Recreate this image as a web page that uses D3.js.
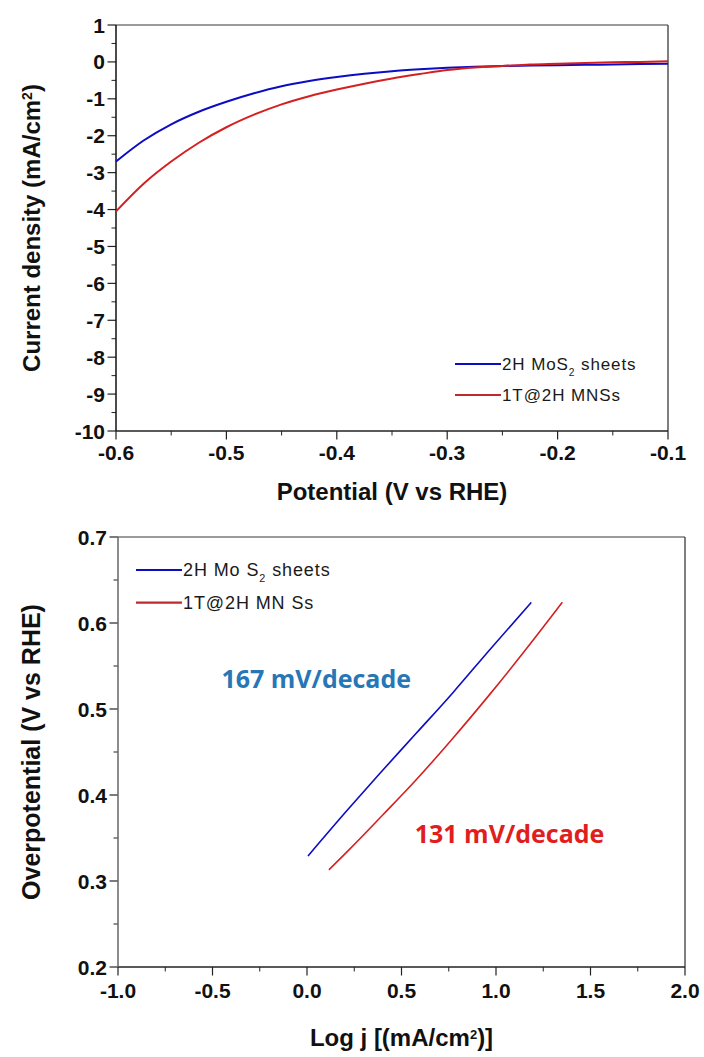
<!DOCTYPE html>
<html>
<head>
<meta charset="utf-8">
<script src="https://cdn.jsdelivr.net/npm/d3@7"></script>
<style>
  body { margin: 0; background: #fff; }
  svg { display: block; }
  .tick-label { font-family: "Liberation Sans", Arial, sans-serif; font-weight: bold; font-size: 21px; fill: #111; }
  .axis-title { font-family: "Liberation Sans", Arial, sans-serif; font-weight: bold; font-size: 24px; fill: #111; }
  .legend-text { font-family: "Liberation Sans", Arial, sans-serif; fill: #1a1a1a; }
  .slope-label { font-family: "Open Sans", "Noto Sans", sans-serif; font-weight: bold; font-size: 25px; }
</style>
</head>
<body>
<svg id="chart" width="704" height="1057"></svg>
<script>
// LSV polarisation curves (top panel)
const lsvPotential = [-0.600, -0.575, -0.550, -0.525, -0.500, -0.475, -0.450, -0.425, -0.400,
  -0.375, -0.350, -0.325, -0.300, -0.275, -0.250, -0.225, -0.200, -0.175, -0.150, -0.125, -0.100];
const lsv2H = [-2.70, -2.13, -1.69, -1.35, -1.08, -0.85, -0.66, -0.52, -0.41,
  -0.32, -0.25, -0.20, -0.16, -0.13, -0.11, -0.10, -0.09, -0.08, -0.07, -0.06, -0.05];
const lsv1T = [-4.05, -3.30, -2.70, -2.19, -1.77, -1.43, -1.15, -0.93, -0.75,
  -0.59, -0.45, -0.33, -0.22, -0.15, -0.11, -0.07, -0.05, -0.03, -0.01, 0.00, 0.02];

// Tafel plots (bottom panel)
const tafel2HLogJ = [0.005, 0.208, 0.385, 0.579, 0.772, 0.967, 1.187];
const tafel2HEta = [0.329, 0.381, 0.425, 0.472, 0.519, 0.569, 0.624];
const tafel1TLogJ = [0.116, 0.226, 0.402, 0.579, 0.772, 0.967, 1.143, 1.351];
const tafel1TEta = [0.313, 0.337, 0.377, 0.418, 0.466, 0.517, 0.565, 0.624];

const seriesColors = ["#0c0cc4", "#d42020"];

const lsvXTicks = [-0.6, -0.5, -0.4, -0.3, -0.2, -0.1];
const lsvYTicks = [1, 0, -1, -2, -3, -4, -5, -6, -7, -8, -9, -10];
const tafelXTicks = [-1.0, -0.5, 0.0, 0.5, 1.0, 1.5, 2.0];
const tafelYTicks = [0.2, 0.3, 0.4, 0.5, 0.6, 0.7];

const svg = d3.select("#chart");

// plain hyphen minus, like the original export
const fmt1 = d => d3.format(".1f")(d).replace("\u2212", "-");
const fmt0 = d => String(d);

function drawFrame(g, x, y, opts) {
  const [x0, x1] = x.range();
  const [y0, y1] = y.range();

  // minor ticks
  g.selectAll(".minor-x")
    .data(opts.xMinor)
    .enter()
    .append("line")
    .attr("x1", d => x(d)).attr("x2", d => x(d))
    .attr("y1", y0).attr("y2", y0 + 4.5)
    .attr("stroke", "#222").attr("stroke-width", 1);

  g.selectAll(".minor-y")
    .data(opts.yMinor)
    .enter()
    .append("line")
    .attr("x1", x0 - 4.5).attr("x2", x0)
    .attr("y1", d => y(d)).attr("y2", d => y(d))
    .attr("stroke", "#222").attr("stroke-width", 1);

  // major ticks + labels
  g.selectAll(".major-x")
    .data(opts.xTicks)
    .enter()
    .append("line")
    .attr("x1", d => x(d)).attr("x2", d => x(d))
    .attr("y1", y0).attr("y2", y0 + 8.5)
    .attr("stroke", "#222").attr("stroke-width", 1.2);

  g.selectAll(".x-label")
    .data(opts.xTicks)
    .enter()
    .append("text")
    .attr("class", "tick-label")
    .attr("x", d => x(d))
    .attr("y", y0 + opts.xLabelOffset)
    .attr("text-anchor", "middle")
    .text(d => opts.xFormat(d));

  g.selectAll(".major-y")
    .data(opts.yTicks)
    .enter()
    .append("line")
    .attr("x1", x0 - 8.5).attr("x2", x0)
    .attr("y1", d => y(d)).attr("y2", d => y(d))
    .attr("stroke", "#222").attr("stroke-width", 1.2);

  g.selectAll(".y-label")
    .data(opts.yTicks)
    .enter()
    .append("text")
    .attr("class", "tick-label")
    .attr("x", x0 - 11)
    .attr("y", d => y(d) + 7.5)
    .attr("text-anchor", "end")
    .text(d => opts.yFormat(d));

  // box: top + right in grey, left + bottom darker
  g.append("line").attr("x1", x0).attr("x2", x1).attr("y1", y1).attr("y2", y1)
    .attr("stroke", "#7a7a7a").attr("stroke-width", 1.5);
  g.append("line").attr("x1", x1).attr("x2", x1).attr("y1", y1).attr("y2", y0)
    .attr("stroke", "#555").attr("stroke-width", 1.5);
  g.append("line").attr("x1", x0).attr("x2", x1).attr("y1", y0).attr("y2", y0)
    .attr("stroke", "#222").attr("stroke-width", 1.5);
  g.append("line").attr("x1", x0).attr("x2", x0).attr("y1", y1).attr("y2", y0)
    .attr("stroke", opts.leftColor).attr("stroke-width", 1.5);
}

function addLegend(g, x0, y0, gap, fontSize, names) {
  names.forEach((name, i) => {
    const yy = y0 + i * gap;
    g.append("line")
      .attr("x1", x0).attr("x2", x0 + 46)
      .attr("y1", yy).attr("y2", yy)
      .attr("stroke", i === 0 ? seriesColors[0] : "#c02a2a")
      .attr("stroke-width", 2.2);
    const t = g.append("text")
      .attr("class", "legend-text")
      .attr("x", x0 + 47)
      .attr("y", yy + fontSize * 0.36)
      .style("font-size", fontSize + "px")
      .style("letter-spacing", "0.9px");
    if (i === 0) {
      t.append("tspan").text(name);
      t.append("tspan").attr("baseline-shift", "sub").style("font-size", (fontSize * 0.6) + "px").text("2");
      t.append("tspan").text(" sheets");
    } else {
      t.text(name);
    }
  });
}

// ---------- top panel: LSV ----------
const xLsv = d3.scaleLinear().domain([-0.6, -0.1]).range([116, 668]);
const yLsv = d3.scaleLinear().domain([-10, 1]).range([431, 25]);
const topG = svg.append("g");

drawFrame(topG, xLsv, yLsv, {
  xTicks: lsvXTicks,
  yTicks: lsvYTicks,
  xMinor: [-0.55, -0.45, -0.35, -0.25, -0.15],
  yMinor: d3.range(-9.5, 1, 1),
  xFormat: fmt1,
  yFormat: fmt0,
  xLabelOffset: 29,
  leftColor: "#111"
});

const lsvLine = d3.line()
  .x(d => xLsv(d[0]))
  .y(d => yLsv(d[1]))
  .curve(d3.curveMonotoneX);

[lsv2H, lsv1T].forEach((vals, i) => {
  topG.append("path")
    .datum(lsvPotential.map((p, k) => [p, vals[k]]))
    .attr("fill", "none")
    .attr("stroke", seriesColors[i])
    .attr("stroke-width", 2)
    .attr("d", lsvLine);
});

addLegend(topG, 455, 364, 31, 17, ["2H MoS", "1T@2H MNSs"]);

topG.append("text")
  .attr("class", "axis-title")
  .attr("x", (116 + 668) / 2)
  .attr("y", 500)
  .attr("text-anchor", "middle")
  .text("Potential (V vs RHE)");

const yt1 = topG.append("text")
  .attr("class", "axis-title")
  .attr("transform", `translate(40,${(25 + 431) / 2}) rotate(-90)`)
  .attr("text-anchor", "middle")
  .style("font-size", "24px");
yt1.append("tspan").text("Current density (mA/cm");
yt1.append("tspan").attr("baseline-shift", "super").style("font-size", "14px").text("2");
yt1.append("tspan").text(")");

// ---------- bottom panel: Tafel ----------
const xTafel = d3.scaleLinear().domain([-1, 2]).range([118, 685]);
const yTafel = d3.scaleLinear().domain([0.2, 0.7]).range([967, 537]);
const botG = svg.append("g");

drawFrame(botG, xTafel, yTafel, {
  xTicks: tafelXTicks,
  yTicks: tafelYTicks,
  xMinor: [-0.75, -0.25, 0.25, 0.75, 1.25, 1.75],
  yMinor: [0.25, 0.35, 0.45, 0.55, 0.65],
  xFormat: fmt1,
  yFormat: fmt1,
  xLabelOffset: 31,
  leftColor: "#666"
});

const tafelLine = d3.line()
  .x(d => xTafel(d[0]))
  .y(d => yTafel(d[1]))
  .curve(d3.curveMonotoneX);

botG.append("path")
  .datum(tafel2HLogJ.map((v, k) => [v, tafel2HEta[k]]))
  .attr("fill", "none")
  .attr("stroke", seriesColors[0])
  .attr("stroke-width", 1.6)
  .attr("d", tafelLine);

botG.append("path")
  .datum(tafel1TLogJ.map((v, k) => [v, tafel1TEta[k]]))
  .attr("fill", "none")
  .attr("stroke", seriesColors[1])
  .attr("stroke-width", 1.6)
  .attr("d", tafelLine);

addLegend(botG, 136, 570, 32.7, 18, ["2H Mo S", "1T@2H MN Ss"]);

botG.append("text")
  .attr("class", "slope-label")
  .attr("x", xTafel(-0.453))
  .attr("y", yTafel(0.524))
  .attr("fill", "#2777b6")
  .text("167 mV/decade");

botG.append("text")
  .attr("class", "slope-label")
  .attr("x", xTafel(0.57))
  .attr("y", yTafel(0.344))
  .attr("fill", "#e01e1e")
  .text("131 mV/decade");

const xt2 = botG.append("text")
  .attr("class", "axis-title")
  .attr("x", (118 + 685) / 2)
  .attr("y", 1046)
  .attr("text-anchor", "middle");
xt2.append("tspan").text("Log j [(mA/cm");
xt2.append("tspan").attr("baseline-shift", "super").style("font-size", "13px").text("2");
xt2.append("tspan").text(")]");

botG.append("text")
  .attr("class", "axis-title")
  .attr("transform", `translate(40,${(537 + 967) / 2}) rotate(-90)`)
  .attr("text-anchor", "middle")
  .style("font-size", "25px")
  .text("Overpotential (V vs RHE)");
</script>
</body>
</html>
